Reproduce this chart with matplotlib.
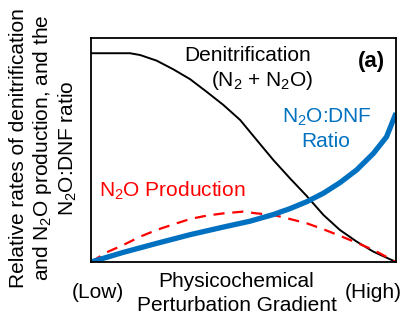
import matplotlib
matplotlib.use("Agg")
import matplotlib.pyplot as plt

plt.rcParams['font.family'] = ['Liberation Sans', 'DejaVu Sans']
plt.rcParams['mathtext.fontset'] = 'custom'
plt.rcParams['mathtext.rm'] = 'Liberation Sans'
plt.rcParams['mathtext.it'] = 'Liberation Sans:italic'
plt.rcParams['mathtext.bf'] = 'Liberation Sans:bold'

# curves, x = gradient (0 low .. 1 high), y = relative rate
dnf_x = [0.0, 0.128, 0.161, 0.215, 0.270, 0.325, 0.379, 0.434, 0.489, 0.543,
         0.598, 0.652, 0.707, 0.762, 0.816, 0.871, 0.926, 1.0]
dnf_y = [0.932, 0.932, 0.924, 0.899, 0.860, 0.816, 0.760, 0.701, 0.634, 0.545,
         0.455, 0.374, 0.295, 0.210, 0.143, 0.091, 0.046, 0.0]

n2o_x = [0.0, 0.051, 0.106, 0.161, 0.215, 0.270, 0.325, 0.379, 0.434, 0.499,
         0.543, 0.598, 0.652, 0.707, 0.762, 0.816, 0.871, 0.926, 1.0]
n2o_y = [0.0, 0.043, 0.076, 0.113, 0.143, 0.168, 0.192, 0.207, 0.217, 0.225,
         0.217, 0.210, 0.192, 0.173, 0.146, 0.117, 0.086, 0.054, 0.0]

ratio_x = [0.0, 0.106, 0.215, 0.325, 0.434, 0.521, 0.598, 0.652, 0.707, 0.762,
           0.816, 0.871, 0.926, 0.969, 1.0]
ratio_y = [0.0, 0.043, 0.083, 0.122, 0.156, 0.182, 0.212, 0.238, 0.269, 0.307,
           0.354, 0.411, 0.485, 0.559, 0.665]

fig = plt.figure(figsize=(4.05, 3.27), dpi=100)
ax = fig.add_axes([0.2247, 0.1988, 0.7531, 0.685])

ax.plot(dnf_x, dnf_y, color='black', lw=1.4, solid_joinstyle='round')
ax.plot(n2o_x, n2o_y, color='#ff0000', lw=1.6, ls=(0, (5, 3.5)))
ax.plot(ratio_x, ratio_y, color='#0070c0', lw=3.8, solid_capstyle='butt',
        solid_joinstyle='round')

ax.set_xlim(0, 1)
ax.set_ylim(0, 1)
ax.set_xticks([])
ax.set_yticks([])
for s in ax.spines.values():
    s.set_linewidth(1.3)

fs = 15
ax.text(0.515, 0.92, 'Denitrification', ha='center', va='center', fontsize=fs)
ax.text(0.563, 0.812, '(N$_2$ + N$_2$O)', ha='center', va='center', fontsize=fs)
ax.text(0.92, 0.893, '(a)', ha='center', va='center', fontsize=fs + 1, fontweight='bold')
ax.text(0.771, 0.647, 'N$_2$O:DNF', ha='center', va='center', fontsize=fs, color='#0070c0')
ax.text(0.771, 0.54, 'Ratio', ha='center', va='center', fontsize=fs, color='#0070c0')
ax.text(0.268, 0.317, 'N$_2$O Production', ha='center', va='center', fontsize=fs, color='#ff0000')

ax.text(0.475, -0.085, 'Physicochemical', ha='center', va='center', fontsize=fs, clip_on=False)
ax.text(0.478, -0.196, 'Perturbation Gradient', ha='center', va='center', fontsize=fs, clip_on=False)
ax.text(0.023, -0.134, '(Low)', ha='center', va='center', fontsize=fs, clip_on=False)
ax.text(0.925, -0.134, '(High)', ha='center', va='center', fontsize=fs, clip_on=False)

fig.text(0.109, 0.547,
         'Relative rates of denitrification\nand N$_2$O production, and the\nN$_2$O:DNF ratio',
         rotation=90, ha='center', va='center', fontsize=fs, linespacing=1.15,
         multialignment='center')

fig.savefig('out.png', dpi=100)
